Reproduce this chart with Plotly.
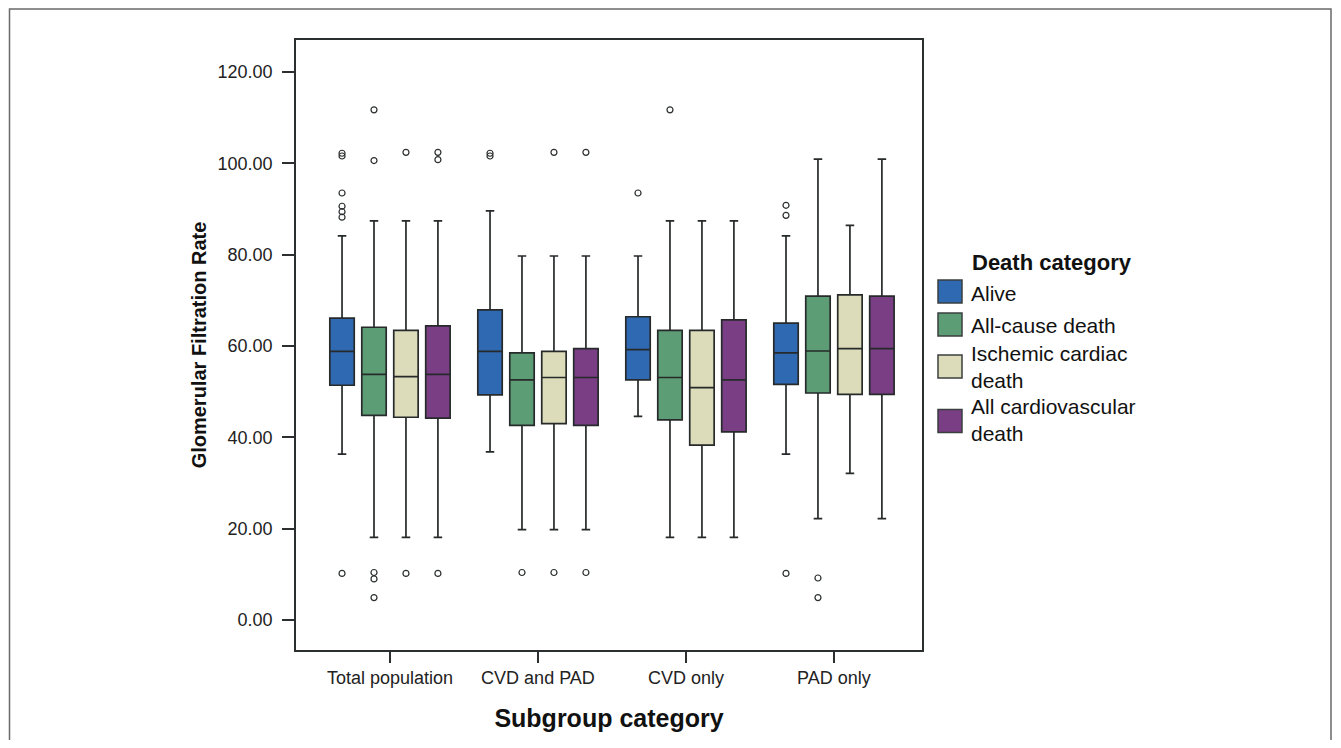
import plotly.graph_objects as go

groups = ["Total population", "CVD and PAD", "CVD only", "PAD only"]
categories = ["Alive", "All-cause death", "Ischemic cardiac<br>death", "All cardiovascular<br>death"]
colors = ["#2f69b1", "#5c9d75", "#dcdcbb", "#7a3e85"]

# per category: values for the 4 subgroups
lower = [[36.3, 36.8, 44.6, 36.3],
         [18.1, 19.8, 18.1, 22.2],
         [18.1, 19.8, 18.1, 32.1],
         [18.1, 19.8, 18.1, 22.2]]
q1 = [[51.4, 49.3, 52.6, 51.6],
      [44.8, 42.6, 43.8, 49.7],
      [44.4, 43.0, 38.3, 49.4],
      [44.2, 42.6, 41.2, 49.4]]
median = [[58.8, 58.8, 59.2, 58.5],
          [53.8, 52.6, 53.1, 58.9],
          [53.3, 53.1, 50.9, 59.4],
          [53.8, 53.1, 52.6, 59.4]]
q3 = [[66.1, 67.9, 66.4, 65.0],
      [64.1, 58.5, 63.4, 70.9],
      [63.4, 58.8, 63.4, 71.2],
      [64.4, 59.4, 65.7, 70.9]]
upper = [[84.1, 89.6, 79.7, 84.1],
         [87.4, 79.7, 87.4, 100.9],
         [87.4, 79.7, 87.4, 86.4],
         [87.4, 79.7, 87.4, 100.9]]

# outliers: per category, per subgroup
outliers = [
    [[102.2, 101.6, 93.5, 90.6, 89.4, 88.2, 10.2], [102.2, 101.6], [93.5], [90.8, 88.6, 10.2]],
    [[111.7, 100.6, 10.4, 9.0, 4.9], [10.4], [111.7], [9.2, 4.9]],
    [[102.4, 10.2], [102.4, 10.4], [], []],
    [[102.4, 100.8, 10.2], [102.4, 10.4], [], []],
]

y_ticks = [0, 20, 40, 60, 80, 100, 120]
y_ticktext = ["%.2f" % v for v in y_ticks]

offsets = [-0.324, -0.108, 0.108, 0.324]
box_w = 0.165

fig = go.Figure()
for k, cat in enumerate(categories):
    xs = [g + offsets[k] for g in range(len(groups))]
    fig.add_trace(go.Box(
        x=xs, q1=q1[k], median=median[k], q3=q3[k],
        lowerfence=lower[k], upperfence=upper[k],
        name=cat.replace("<br>", " "), width=box_w, whiskerwidth=0.35,
        fillcolor=colors[k], line=dict(color="#262a2a", width=1.7),
        boxpoints=False, showlegend=False, hoverinfo="skip",
    ))
for k, cat in enumerate(categories):
    ox, oy = [], []
    for g in range(len(groups)):
        for v in outliers[k][g]:
            ox.append(g + offsets[k])
            oy.append(v)
    fig.add_trace(go.Scatter(
        x=ox, y=oy, mode="markers", showlegend=False, hoverinfo="skip",
        marker=dict(symbol="circle-open", size=6, color="#2b2f2f", line=dict(width=1.2)),
    ))

# plot area in page pixels: x 296..922, y 40..650
PX0, PX1, PY0, PY1 = 296, 922, 40, 650
def px(x):
    return (x - PX0) / (PX1 - PX0)
def py(y):
    return (PY1 - y) / (PY1 - PY0)

fig.update_layout(
    width=1325, height=732,
    margin=dict(l=288, r=411, t=32, b=90),
    paper_bgcolor="white", plot_bgcolor="white",
    font=dict(family="Liberation Sans, Arial, sans-serif", color="#222"),
    showlegend=False,
)
fig.update_xaxes(
    range=[-0.635, 3.595], tickmode="array", tickvals=list(range(len(groups))), ticktext=groups,
    ticks="outside", ticklen=11, tickwidth=1.5, tickcolor="#2b2f2f",
    showline=True, linecolor="#2b2f2f", linewidth=1.6, mirror=True,
    showgrid=False, zeroline=False, tickfont=dict(size=18, color="#222"),
    title=dict(text="<b>Subgroup category</b>", font=dict(size=25, color="#111"), standoff=22),
)
fig.update_yaxes(
    range=[-6.57, 127.0], tickmode="array", tickvals=y_ticks, ticktext=y_ticktext,
    ticks="outside", ticklen=12, tickwidth=1.5, tickcolor="#2b2f2f",
    showline=True, linecolor="#2b2f2f", linewidth=1.6, mirror=True,
    showgrid=False, zeroline=False, tickfont=dict(size=18, color="#222"),
    ticklabelstandoff=6,
    title=dict(text="<b>Glomerular Filtration Rate</b>", font=dict(size=20, color="#111"), standoff=6),
)

# legend (drawn manually to match swatch size)
fig.add_annotation(text="<b>Death category</b>", xref="paper", yref="paper",
                   x=px(970), xanchor="left", y=py(262), yanchor="middle",
                   showarrow=False, font=dict(size=22, color="#111"))
swatch_centers = [291.5, 324.5, 366.5, 421]
text_centers = [293, 325, 367, 420]
for k, cat in enumerate(categories):
    c = swatch_centers[k]
    fig.add_shape(type="rect", xref="paper", yref="paper",
                  x0=px(938), x1=px(962), y0=py(c + 11.5), y1=py(c - 11.5),
                  fillcolor=colors[k], line=dict(color="#3a3f3f", width=1.5))
    fig.add_annotation(text=cat, xref="paper", yref="paper", align="left",
                       x=px(969), xanchor="left", y=py(text_centers[k]), yanchor="middle",
                       showarrow=False, font=dict(size=21, color="#111"))

# outer thin frame of the figure panel
fig.add_shape(type="rect", xref="paper", yref="paper",
              x0=px(9.5), x1=px(1331), y0=py(800), y1=py(9),
              line=dict(color="#6a6a6a", width=1.5), fillcolor="rgba(0,0,0,0)", layer="below")

fig.write_html("out.html")
